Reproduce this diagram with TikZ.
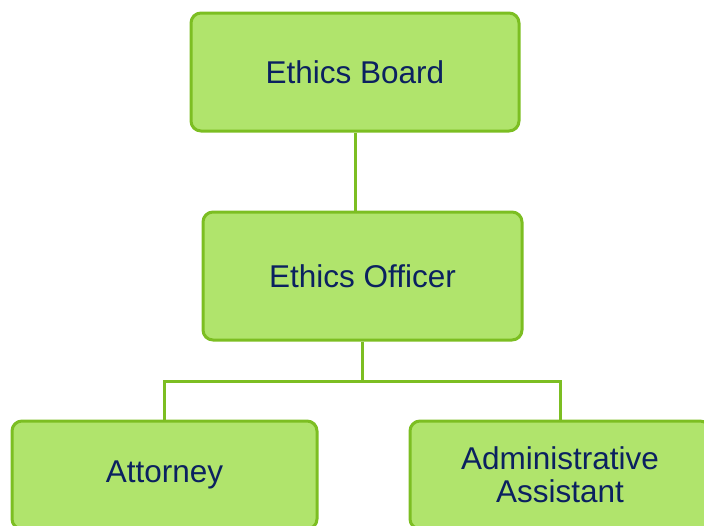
\documentclass[tikz,border=0pt]{standalone}
\usepackage{fontspec}
\setmainfont{Liberation Sans}
\definecolor{boxfill}{HTML}{B0E46C}
\definecolor{boxline}{HTML}{7CBE22}
\definecolor{txt}{HTML}{0B2160}
\begin{document}
\begin{tikzpicture}[x=1pt,y=-1pt,
  orgbox/.style={draw=boxline, fill=boxfill, line width=3pt, rounded corners=10pt,
    text=txt, font=\fontsize{31.5}{33}\selectfont, align=center, inner sep=0pt},
  conn/.style={draw=boxline, line width=3pt}]
\useasboundingbox (0,0) rectangle (704,525);
\clip (0,0) rectangle (704,525);
\node[orgbox, minimum width=328pt, minimum height=118pt] (board) at (355,72) {Ethics Board};
\node[orgbox, minimum width=319pt, minimum height=128pt] (officer) at (362.5,276) {Ethics Officer};
\node[orgbox, minimum width=305pt, minimum height=108pt] (attorney) at (164.5,475) {Attorney};
\node[orgbox, minimum width=300pt, minimum height=108pt] (admin) at (560,475) {Administrative\\Assistant};
\coordinate (split) at (362.5,381);
\draw[conn] (board.south) -- (board.south |- officer.north);
\draw[conn] (officer.south) -- (split);
\draw[conn] (attorney.north) |- (split) -| (admin.north);
\end{tikzpicture}
\end{document}
